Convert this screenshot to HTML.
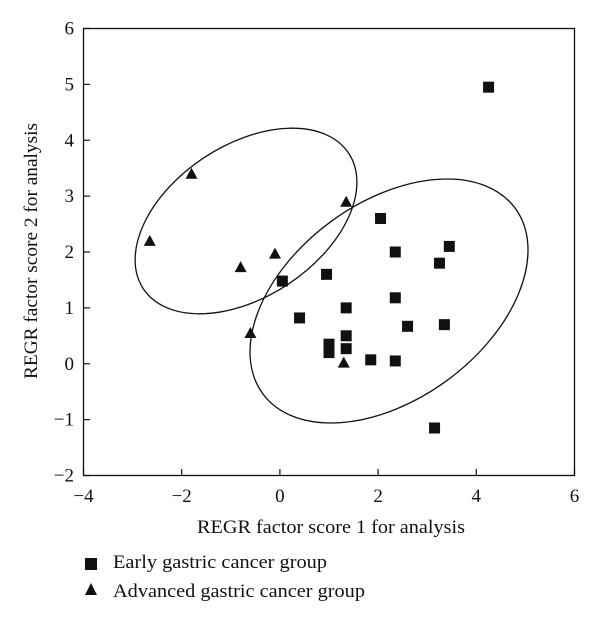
<!DOCTYPE html>
<html><head><meta charset="utf-8"><style>
body{margin:0;background:#fff;}
svg text{font-family:"Liberation Serif",serif;fill:#111;}
</style></head><body>
<svg id="chart" width="600" height="622" viewBox="0 0 600 622" xmlns="http://www.w3.org/2000/svg">
<rect x="83.5" y="28.5" width="491" height="447" fill="none" stroke="#111" stroke-width="1.3"/>
<g id="ticks"></g>
<ellipse cx="246" cy="221" rx="123" ry="76" transform="rotate(-33.4 246 221)" fill="none" stroke="#111" stroke-width="1.3"/>
<ellipse cx="389" cy="301" rx="156.6" ry="98.4" transform="rotate(-36.3 389 301)" fill="none" stroke="#111" stroke-width="1.3"/>
<g id="marks"></g>
<text x="197" y="533" font-size="19" textLength="268" lengthAdjust="spacingAndGlyphs">REGR factor score 1 for analysis</text>
<text transform="translate(37 379) rotate(-90)" font-size="19" textLength="256" lengthAdjust="spacingAndGlyphs">REGR factor score 2 for analysis</text>
<g>
<rect x="85" y="558" width="12" height="12" fill="#111"/>
<text x="113" y="568" font-size="19" textLength="214" lengthAdjust="spacingAndGlyphs">Early gastric cancer group</text>
<polygon points="91,583 97,595 85,595" fill="#111"/>
<text x="113" y="597" font-size="19" textLength="252" lengthAdjust="spacingAndGlyphs">Advanced gastric cancer group</text>
</g>
</svg>
<script>
const xTicks=[-4,-2,0,2,4,6];
const yTicks=[-2,-1,0,1,2,3,4,5,6];
const earlyX=[4.25,2.05,2.35,3.45,3.25,0.95,0.05,2.35,1.35,0.4,2.6,3.35,1.35,1.0,1.0,1.35,1.85,2.35,3.15];
const earlyY=[4.95,2.6,2.0,2.1,1.8,1.6,1.48,1.18,1.0,0.82,0.67,0.7,0.5,0.35,0.2,0.27,0.07,0.05,-1.15];
const advX=[-1.8,-2.65,-0.8,-0.1,1.35,-0.6,1.3];
const advY=[3.4,2.2,1.73,1.97,2.9,0.55,0.02];
const NS="http://www.w3.org/2000/svg";
const sx=v=>83.5+49.1*(v+4);
const sy=v=>28.5+55.875*(6-v);
const ticks=document.getElementById('ticks');
const marks=document.getElementById('marks');
function mk(t,a,p){const e=document.createElementNS(NS,t);for(const k in a)e.setAttribute(k,a[k]);p.appendChild(e);return e;}
xTicks.forEach(v=>{
 const l=mk('line',{x1:sx(v),x2:sx(v),y1:475,y2:469,stroke:'#111','stroke-width':1.2},ticks);
 
 
 const t=mk('text',{x:sx(v),y:502,'font-size':19,'text-anchor':'middle'},ticks);
 t.textContent=v<0?'\u2212'+(-v):String(v);
 
 
});
yTicks.forEach(v=>{
 const l=mk('line',{x1:83.5,x2:90,y1:sy(v),y2:sy(v),stroke:'#111','stroke-width':1.2},ticks);
 
 
 const t=mk('text',{x:74,y:sy(v)+6,'font-size':19,'text-anchor':'end'},ticks);
 t.textContent=v<0?'\u2212'+(-v):String(v);
 
 
});
earlyX.forEach((v,i)=>{
 const r=mk('rect',{x:sx(v)-5.5,y:sy(earlyY[i])-5.5,width:11,height:11,fill:'#111'},marks);
 
 
});
advX.forEach((v,i)=>{
 const x=sx(v),y=sy(advY[i]);
 const p=mk('polygon',{points:`${x},${y-6} ${x+6},${y+5} ${x-6},${y+5}`,fill:'#111'},marks);
 
 
});
</script>
</body></html>
